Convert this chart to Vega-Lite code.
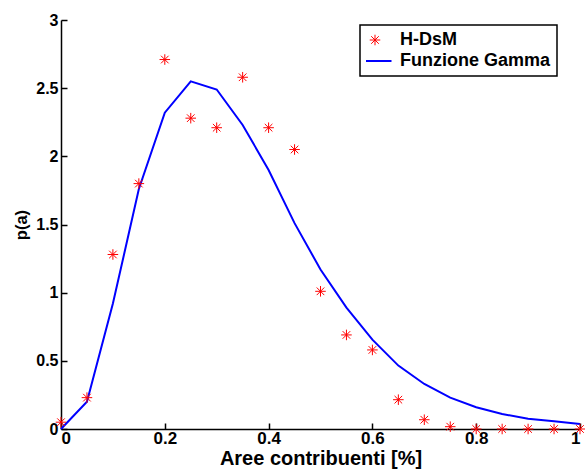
{
  "$schema": "https://vega.github.io/schema/vega-lite/v6.json",
  "width": 519,
  "height": 409,
  "autosize": {"type": "none"},
  "padding": {"left": 61, "top": 20, "right": 5, "bottom": 45},
  "background": "white",
  "config": {
    "view": {"stroke": null},
    "font": "Liberation Sans",
    "axis": {
      "grid": false,
      "domainColor": "black",
      "domainWidth": 1.5,
      "tickColor": "black",
      "tickWidth": 1.5,
      "tickSize": -6,
      "labelColor": "black",
      "labelFont": "Liberation Sans",
      "labelFontWeight": "bold",
      "titleColor": "black",
      "titleFont": "Liberation Sans",
      "titleFontWeight": "bold"
    }
  },
  "data": {
    "values": [
      {"x": 0, "y": 0.05, "series": "H-DsM"},
      {"x": 0.05, "y": 0.23, "series": "H-DsM"},
      {"x": 0.1, "y": 1.28, "series": "H-DsM"},
      {"x": 0.15, "y": 1.8, "series": "H-DsM"},
      {"x": 0.2, "y": 2.71, "series": "H-DsM"},
      {"x": 0.25, "y": 2.28, "series": "H-DsM"},
      {"x": 0.3, "y": 2.21, "series": "H-DsM"},
      {"x": 0.35, "y": 2.58, "series": "H-DsM"},
      {"x": 0.4, "y": 2.21, "series": "H-DsM"},
      {"x": 0.45, "y": 2.05, "series": "H-DsM"},
      {"x": 0.5, "y": 1.01, "series": "H-DsM"},
      {"x": 0.55, "y": 0.69, "series": "H-DsM"},
      {"x": 0.6, "y": 0.58, "series": "H-DsM"},
      {"x": 0.65, "y": 0.215, "series": "H-DsM"},
      {"x": 0.7, "y": 0.068, "series": "H-DsM"},
      {"x": 0.75, "y": 0.017, "series": "H-DsM"},
      {"x": 0.8, "y": 0.0, "series": "H-DsM"},
      {"x": 0.85, "y": 0.0, "series": "H-DsM"},
      {"x": 0.9, "y": 0.0, "series": "H-DsM"},
      {"x": 0.95, "y": 0.0, "series": "H-DsM"},
      {"x": 1.0, "y": 0.0, "series": "H-DsM"},
      {"x": 0, "y": 0.0, "series": "Funzione Gamma"},
      {"x": 0.05, "y": 0.2, "series": "Funzione Gamma"},
      {"x": 0.1, "y": 0.92, "series": "Funzione Gamma"},
      {"x": 0.15, "y": 1.76, "series": "Funzione Gamma"},
      {"x": 0.2, "y": 2.32, "series": "Funzione Gamma"},
      {"x": 0.25, "y": 2.55, "series": "Funzione Gamma"},
      {"x": 0.3, "y": 2.49, "series": "Funzione Gamma"},
      {"x": 0.35, "y": 2.23, "series": "Funzione Gamma"},
      {"x": 0.4, "y": 1.9, "series": "Funzione Gamma"},
      {"x": 0.45, "y": 1.51, "series": "Funzione Gamma"},
      {"x": 0.5, "y": 1.17, "series": "Funzione Gamma"},
      {"x": 0.55, "y": 0.89, "series": "Funzione Gamma"},
      {"x": 0.6, "y": 0.655, "series": "Funzione Gamma"},
      {"x": 0.65, "y": 0.465, "series": "Funzione Gamma"},
      {"x": 0.7, "y": 0.33, "series": "Funzione Gamma"},
      {"x": 0.75, "y": 0.23, "series": "Funzione Gamma"},
      {"x": 0.8, "y": 0.16, "series": "Funzione Gamma"},
      {"x": 0.85, "y": 0.11, "series": "Funzione Gamma"},
      {"x": 0.9, "y": 0.075, "series": "Funzione Gamma"},
      {"x": 0.95, "y": 0.056, "series": "Funzione Gamma"},
      {"x": 1.0, "y": 0.037, "series": "Funzione Gamma"}
    ]
  },
  "encoding": {
    "x": {
      "field": "x",
      "type": "quantitative",
      "scale": {"domain": [0, 1], "nice": false},
      "axis": {
        "title": "Aree contribuenti [%]",
        "values": [0, 0.2, 0.4, 0.6, 0.8, 1],
        "format": "~g",
        "labelFontSize": 17,
        "titleFontSize": 20,
        "labelPadding": 7,
        "titlePadding": 2
      }
    },
    "y": {
      "field": "y",
      "type": "quantitative",
      "scale": {"domain": [0, 3], "nice": false},
      "axis": {
        "title": "p(a)",
        "values": [0, 0.5, 1, 1.5, 2, 2.5, 3],
        "format": "~g",
        "labelFontSize": 16,
        "titleFontSize": 16.5,
        "labelPadding": 9,
        "titlePadding": 6
      }
    },
    "color": {
      "field": "series",
      "type": "nominal",
      "scale": {"domain": ["H-DsM", "Funzione Gamma"], "range": ["#ff0000", "#0000ff"]},
      "legend": {
        "title": null,
        "orient": "none",
        "legendX": 299,
        "legendY": 5,
        "direction": "vertical",
        "fillColor": "white",
        "strokeColor": "black",
        "padding": 6,
        "labelFont": "Liberation Sans",
        "labelFontWeight": "bold",
        "labelFontSize": 18,
        "labelColor": "black",
        "labelOffset": 16,
        "symbolSize": 1089,
        "symbolStrokeWidth": 2,
        "clipHeight": 18,
        "rowPadding": 3,
        "encode": {
          "legend": {
            "update": {
              "strokeWidth": {"value": 1.5}
            }
          },
          "symbols": {
            "update": {
              "strokeWidth": {"signal": "datum.value === 'H-DsM' ? 1 : 2"}
            }
          }
        }
      }
    }
  },
  "layer": [
    {
      "transform": [{"filter": "datum.series === 'Funzione Gamma'"}],
      "mark": {"type": "line", "strokeWidth": 2}
    },
    {
      "transform": [{"filter": "datum.series === 'H-DsM'"}],
      "mark": {"type": "point", "filled": false, "strokeWidth": 1, "size": 1089, "opacity": 1},
      "encoding": {
        "shape": {
          "field": "series",
          "type": "nominal",
          "scale": {
            "domain": ["H-DsM", "Funzione Gamma"],
            "range": ["M-0.32,0L0.32,0M0,-0.32L0,0.32M-0.23,-0.23L0.23,0.23M-0.23,0.23L0.23,-0.23", "stroke"]
          },
          "legend": {
            "title": null,
            "orient": "none",
            "legendX": 299,
            "legendY": 5
          }
        }
      }
    }
  ]
}
